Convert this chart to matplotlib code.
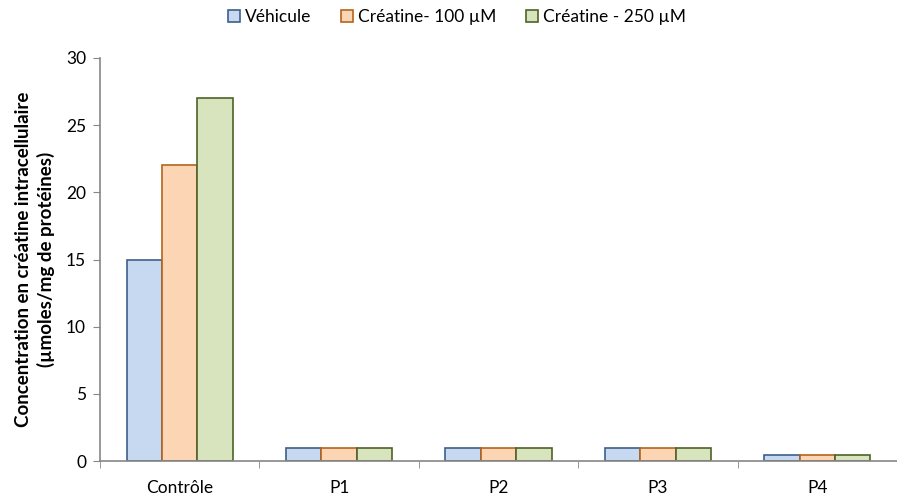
import matplotlib

matplotlib.use("Agg")
import matplotlib.pyplot as plt
import numpy as np
from matplotlib.patches import Patch

plt.rcParams["font.family"] = ["Lato", "DejaVu Sans"]

categories = ["Contrôle", "P1", "P2", "P3", "P4"]
series_names = ["Véhicule", "Créatine- 100 µM", "Créatine - 250 µM"]
vehicule = [15, 1, 1, 1, 0.45]
creatine_100 = [22, 1, 1, 1, 0.45]
creatine_250 = [27, 1, 1, 1, 0.45]

fills = ["#C6D9F1", "#FCD5B5", "#D7E4BD"]
edges = ["#3E5F8A", "#B5651D", "#4F6228"]
grey = "#868686"

fig = plt.figure(figsize=(8.97, 5.0), dpi=100)
ax = fig.add_axes([100 / 897, 39 / 500, 797 / 897, 403 / 500])

x = np.arange(len(categories))
w = 0.222
for i, vals in enumerate([vehicule, creatine_100, creatine_250]):
    ax.bar(x + (i - 1) * w, vals, w, color=fills[i], edgecolor=edges[i], linewidth=1.2)

ax.set_xlim(-0.5, 4.5 - 7 / 160.7)
ax.set_ylim(0, 30)
ax.set_yticks(range(0, 31, 5))
ax.set_xticks(x)
ax.set_xticklabels(categories)
ax.set_xticks(np.arange(-0.5, 4.6, 1), minor=True)
ax.tick_params(axis="x", which="major", length=0, pad=14, labelsize=12.5)
ax.tick_params(axis="x", which="minor", length=5, color=grey, direction="out")
ax.tick_params(axis="y", length=5, color=grey, direction="out", labelsize=12.5, pad=5)

for s in ["top", "right"]:
    ax.spines[s].set_visible(False)
for s in ["left", "bottom"]:
    ax.spines[s].set_color(grey)
    ax.spines[s].set_linewidth(1.2)

ax.set_ylabel("Concentration en créatine intracellulaire\n(µmoles/mg de protéines)",
              fontsize=13.5, fontweight="bold", labelpad=8, linespacing=1.35)

handles = [Patch(facecolor=fills[i], edgecolor=edges[i], linewidth=1.2) for i in range(3)]
fig.legend(handles, series_names, loc="center", bbox_to_anchor=(457 / 897, 1 - 17 / 500),
           ncol=3, frameon=False, fontsize=12.5, handlelength=0.7, handleheight=0.7,
           handletextpad=0.3, columnspacing=1.7)

fig.savefig("out.png", dpi=100)
